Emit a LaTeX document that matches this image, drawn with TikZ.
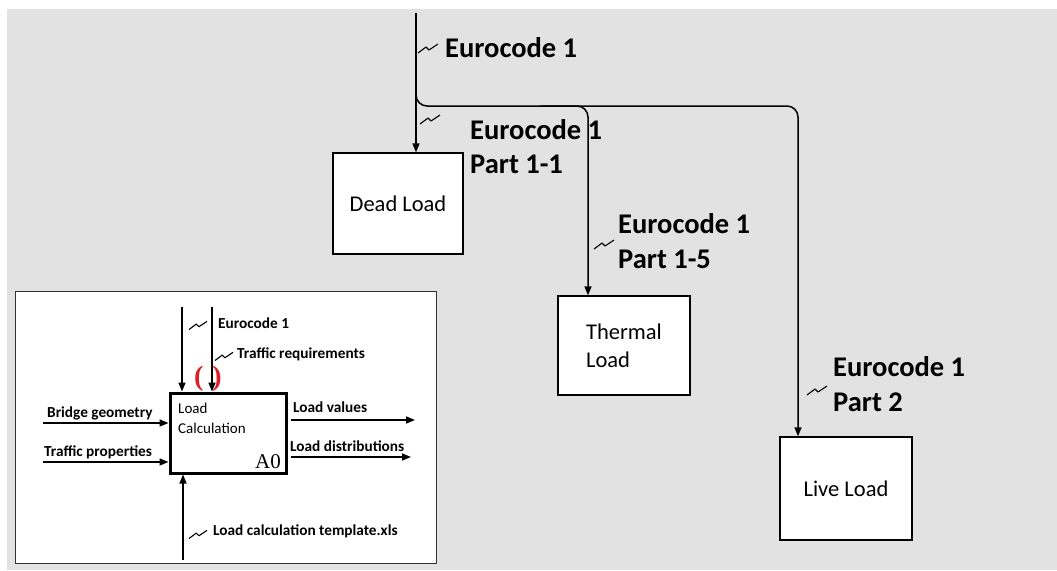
\documentclass[tikz,border=0pt]{standalone}
\usepackage{fontspec}
\setmainfont{Carlito}
\newfontfamily\timesfam{Liberation Serif}
\usetikzlibrary{arrows.meta}
\definecolor{bgc}{RGB}{226,226,226}
\definecolor{parred}{RGB}{220,30,40}
\begin{document}
\begin{tikzpicture}[x=1pt,y=-1pt,
  flow/.style={draw=black, line width=1.5pt, -{Triangle[length=9pt,width=7pt]}},
  iflow/.style={draw=black, line width=1.5pt, -{Triangle[length=9pt,width=7pt]}},
  loadbox/.style={draw=black, fill=white, line width=1.3pt, minimum width=130pt, minimum height=101pt,
     inner sep=0pt, align=left, font=\fontsize{22.5}{28}\selectfont},
  bigl/.style={anchor=base west, inner sep=0pt, font=\fontsize{28.5}{34}\selectfont\bfseries},
  smalll/.style={anchor=base west, inner sep=0pt, font=\fontsize{15.3}{18}\selectfont\bfseries},
  squig/.pic={\draw[line width=1.1pt, line join=round] (-10,5) -- (-2,-1) -- (1,2) -- (10,-4);}
]
% background
\useasboundingbox (0,0) rectangle (1057,570);
\fill[white] (0,0) rectangle (1057,570);
\fill[bgc] (7,9) rectangle (1057,570);

% load boxes
\node[loadbox] (dead) at (398,203.5) {Dead Load};
\node[loadbox, minimum width=132pt, minimum height=99pt] (thermal) at (624,345.5) {Thermal\\Load};
\node[loadbox, minimum width=132pt, minimum height=103pt] (live) at (846,488.5) {Live Load};

% connectors
\coordinate (top) at (416,13);
\coordinate (lx) at (798,106);
\coordinate (tx) at (588,106);
\coordinate (tstart) at (540,106);
\draw[flow] (top) -- (top |- dead.north);
\draw[flow, rounded corners=11pt] (top) |- (lx) -- (lx |- live.north);
\draw[flow, rounded corners=11pt] (tstart) -- (tx) -- (tx |- thermal.north);

% squiggles and labels
\pic at (428,48) {squig};
\node[bigl] (ec0) at (445,57) {Eurocode 1};
\pic at (430,119) {squig};
\node[bigl] (ec11a) at (470,139) {Eurocode 1};
\node[bigl] (ec11b) at (470,173) {Part 1-1};
\pic at (604,244) {squig};
\node[bigl] (ec15a) at (618,233) {Eurocode 1};
\node[bigl] (ec15b) at (618,268) {Part 1-5};
\pic at (817,390) {squig};
\node[bigl] (ec2a) at (833,376) {Eurocode 1};
\node[bigl] (ec2b) at (833,411) {Part 2};

% inset
\fill[white] (15,291) rectangle (436,563);
\draw[line width=0.9pt, draw=black!80] (15,291) rectangle (436,563);
\node[draw=black, fill=white, line width=3pt, minimum width=116pt, minimum height=80pt, inner sep=0pt] (a0) at (228,433) {};
\node[anchor=base west, inner sep=0pt, align=left, font=\fontsize{15}{20}\selectfont] (lc) at (178,433) {Load\\Calculation};
\node[anchor=base east, inner sep=0pt, font=\timesfam\fontsize{21}{24}\selectfont] (a0t) at (281,468) {A0};
\node[inner sep=0pt, text=parred, font=\timesfam\bfseries\fontsize{28}{28}\selectfont] (par) at (208,379) {(\hspace{9pt})};

\coordinate (bg0) at (43,423);
\coordinate (tp0) at (43,462);
\coordinate (lv1) at (415,420);
\coordinate (ld1) at (411,457);
\coordinate (c1) at (182,307);
\coordinate (c2) at (212,307);
\coordinate (m1) at (183,560);
\draw[iflow] (bg0) -- (bg0 -| a0.west);
\draw[iflow] (tp0) -- (tp0 -| a0.west);
\draw[iflow, shorten <=3pt] (lv1 -| a0.east) -- (lv1);
\draw[iflow, shorten <=3pt] (ld1 -| a0.east) -- (ld1);
\draw[iflow] (c1) -- (c1 |- a0.north);
\draw[iflow] (c2) -- (c2 |- a0.north);
\draw[iflow] (m1) -- (m1 |- a0.south);

\node[smalll] (bgt) at (47,417) {Bridge geometry};
\node[smalll] (tpt) at (44,456) {Traffic properties};
\node[smalll] (lvt) at (293,412) {Load values};
\node[smalll] (ldt) at (290,451) {Load distributions};
\pic[scale=0.9] at (198,325) {squig};
\node[smalll] (ect) at (218,328) {Eurocode 1};
\pic[scale=0.9] at (224,356) {squig};
\node[smalll] (trt) at (237,358) {Traffic requirements};
\pic[scale=0.9] at (198,534) {squig};
\node[smalll] (lct) at (213,535) {Load calculation template.xls};
\end{tikzpicture}
\end{document}
